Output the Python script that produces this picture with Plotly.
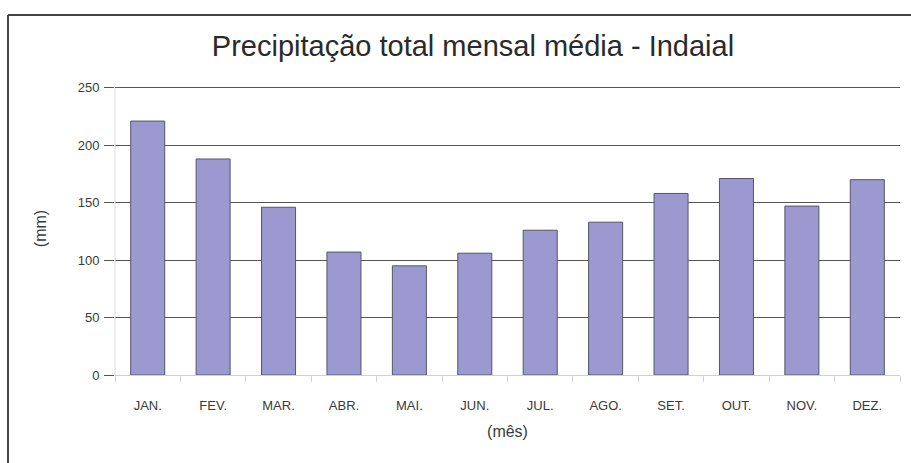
import plotly.graph_objects as go

# Monthly mean total precipitation (mm), Indaial
months = ["JAN.", "FEV.", "MAR.", "ABR.", "MAI.", "JUN.",
          "JUL.", "AGO.", "SET.", "OUT.", "NOV.", "DEZ."]
precip_mm = [221, 188, 146, 107, 95, 106, 126, 133, 158, 171, 147, 170]
y_ticks = [0, 50, 100, 150, 200, 250]

W, H = 911, 463
L, R, T, B = 115, 11, 82, 88
pw, ph = W - L - R, H - T - B


def px_x(x):
    return (x - L) / pw


def px_y(y):
    return (H - B - y) / ph


fig = go.Figure()
fig.add_trace(go.Bar(
    x=months, y=precip_mm,
    marker=dict(color="#9c99d0", line=dict(color="#55556a", width=1)),
    width=0.52,
    hoverinfo="x+y",
))

font = "Liberation Sans, Arial, sans-serif"

fig.update_layout(
    width=W, height=H,
    margin=dict(l=L, r=R, t=T, b=B),
    paper_bgcolor="white", plot_bgcolor="white",
    showlegend=False,
    font=dict(family=font, color="#333333", size=13),
    title=dict(text="Precipitação total mensal média - Indaial",
               x=px_x(473), xref="paper", xanchor="center",
               y=1 - 46 / H, yanchor="middle",
               font=dict(family=font, size=29, color="#2a2a2a")),
    xaxis=dict(
        type="category", showgrid=False,
        showline=True, linecolor="#d0d0d0", linewidth=1,
        ticks="outside", ticklen=6, tickcolor="#d0d0d0",
        tickson="boundaries",
        ticklabelstandoff=18,
        tickfont=dict(size=13, color="#3a3a3a"),
        title=dict(text="(mês)", font=dict(size=16, color="#3a3a3a"), standoff=14),
    ),
    yaxis=dict(
        range=[0, 255], tickvals=y_ticks,
        showgrid=True, gridcolor="#555555", gridwidth=1,
        zeroline=False,
        showline=False,
        ticks="outside", ticklen=10, tickcolor="#555555",
        ticklabelstandoff=2,
        tickfont=dict(size=13, color="#3a3a3a"),
        title=dict(text="(mm)", font=dict(size=16, color="#3a3a3a"), standoff=27),
    ),
    shapes=[
        # light vertical axis line spanning 0-250
        dict(type="line", xref="paper", yref="y",
             x0=0, x1=0, y0=0, y1=250,
             line=dict(color="#d8d8d8", width=1)),
        # outer chart frame (top and left edges)
        dict(type="line", xref="paper", yref="paper",
             x0=px_x(8), x1=px_x(911), y0=px_y(15), y1=px_y(15),
             line=dict(color="#444444", width=2)),
        dict(type="line", xref="paper", yref="paper",
             x0=px_x(8), x1=px_x(8), y0=px_y(15), y1=px_y(463),
             line=dict(color="#444444", width=2)),
    ],
)

fig.write_html("out.html")
